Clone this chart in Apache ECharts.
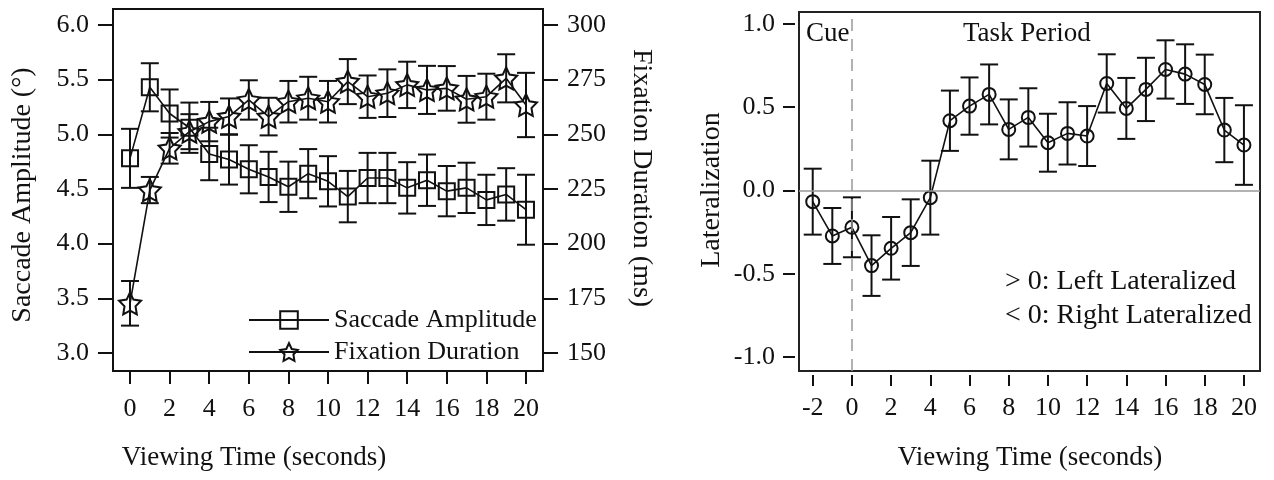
<!DOCTYPE html>
<html>
<head>
<meta charset="utf-8">
<script src="https://cdn.jsdelivr.net/npm/echarts@6/dist/echarts.min.js"></script>
<style>
html,body{margin:0;padding:0;background:#fff;}
#c{width:1274px;height:480px;}
</style>
</head>
<body>
<div id="c"></div>
<script>
// ---- data ----
const timesLeft = [0,1,2,3,4,5,6,7,8,9,10,11,12,13,14,15,16,17,18,19,20];
const saccadeAmp = [4.78,5.43,5.19,5.06,4.82,4.77,4.68,4.61,4.52,4.64,4.57,4.43,4.60,4.60,4.51,4.58,4.48,4.51,4.40,4.45,4.31];
const saccadeErr = [0.27,0.22,0.22,0.23,0.24,0.23,0.22,0.23,0.23,0.225,0.23,0.235,0.23,0.23,0.235,0.235,0.23,0.23,0.23,0.24,0.32];
const fixDur = [172.7,224.5,243.6,251.2,255.8,258.1,265.7,258.1,264.9,266.5,264.9,274.1,267.2,268.8,272.6,270.3,271.0,266.0,267.2,275.6,263.4];
const fixErr = [10.2,6,7,8,9,8.3,9,8.6,9.5,9.8,9.5,10.3,9.7,10.9,10.6,11,10.2,10.7,10.5,11,14.7];

const timesRight = [-2,-1,0,1,2,3,4,5,6,7,8,9,10,11,12,13,14,15,16,17,18,19,20];
const lateral = [-0.067,-0.273,-0.221,-0.451,-0.347,-0.253,-0.043,0.419,0.507,0.577,0.367,0.439,0.287,0.343,0.327,0.643,0.493,0.607,0.727,0.699,0.637,0.363,0.273];
const lateralErr = [0.198,0.168,0.18,0.182,0.188,0.2,0.222,0.181,0.172,0.18,0.18,0.175,0.174,0.187,0.18,0.175,0.183,0.19,0.175,0.179,0.179,0.193,0.239];

const xTicksLeft = [0,2,4,6,8,10,12,14,16,18,20];
const yTicksAmp = [3.0,3.5,4.0,4.5,5.0,5.5,6.0];
const yTicksFix = [150,175,200,225,250,275,300];
const xTicksRight = [-2,0,2,4,6,8,10,12,14,16,18,20];
const yTicksLat = [-1.0,-0.5,0.0,0.5,1.0];

// ---- helpers ----
const FONT = '"Liberation Serif","Times New Roman",Times,serif';
const STAR = 'path://M0,-10 L2.94,-4.05 L9.51,-3.09 L4.76,1.55 L5.88,8.09 L0,5 L-5.88,8.09 L-4.76,1.55 L-9.51,-3.09 L-2.94,-4.05 Z';

function errRender(capHalf, lw) {
  return function (params, api) {
    const x = api.value(0), y = api.value(1), e = api.value(2);
    const t = api.coord([x, y + e]);
    const b = api.coord([x, y - e]);
    const st = { stroke: '#111', lineWidth: lw, fill: null };
    return {
      type: 'group',
      children: [
        { type: 'line', shape: { x1: t[0], y1: t[1], x2: b[0], y2: b[1] }, style: st },
        { type: 'line', shape: { x1: t[0] - capHalf, y1: t[1], x2: t[0] + capHalf, y2: t[1] }, style: st },
        { type: 'line', shape: { x1: b[0] - capHalf, y1: b[1], x2: b[0] + capHalf, y2: b[1] }, style: st }
      ]
    };
  };
}
const zip3 = (xs, ys, es) => xs.map((x, i) => [x, ys[i], es[i]]);
const zip2 = (xs, ys) => xs.map((x, i) => [x, ys[i]]);

const labelStyle = { fontFamily: FONT, fontSize: 26, color: '#111' };
const tickStyle = { color: '#111', width: 2 };
const noLine = { show: false, onZero: false };

const chart = echarts.init(document.getElementById('c'), null, { renderer: 'canvas' });

const option = {
  backgroundColor: '#fff',
  animation: false,
  grid: [
    { left: 113, top: 9, width: 430, height: 362, show: true, borderColor: '#111', borderWidth: 2, backgroundColor: 'transparent', containLabel: false },
    { left: 799, top: 12, width: 461, height: 359, show: true, borderColor: '#222', borderWidth: 2, backgroundColor: 'transparent', containLabel: false }
  ],
  xAxis: [
    {
      gridIndex: 0, type: 'value', min: -0.86, max: 20.86, position: 'bottom',
      axisLine: noLine, splitLine: { show: false },
      axisTick: { show: true, inside: false, length: 13, lineStyle: tickStyle, customValues: xTicksLeft },
      axisLabel: Object.assign({ margin: 25, customValues: xTicksLeft, formatter: v => String(v) }, labelStyle)
    },
    {
      gridIndex: 1, type: 'value', min: -2.7, max: 20.82, offset: 4, position: 'bottom',
      axisLine: noLine, splitLine: { show: false },
      axisTick: { show: true, inside: false, length: 11, lineStyle: tickStyle, customValues: xTicksRight },
      axisLabel: Object.assign({ margin: 20, customValues: xTicksRight, formatter: v => String(v) }, labelStyle)
    }
  ],
  yAxis: [
    {
      gridIndex: 0, type: 'value', position: 'left', min: 2.835, max: 6.146,
      axisLine: noLine, splitLine: { show: false },
      axisTick: { show: true, inside: false, length: 15, lineStyle: tickStyle, customValues: yTicksAmp },
      axisLabel: Object.assign({ margin: 24, customValues: yTicksAmp, formatter: v => v.toFixed(1) }, labelStyle)
    },
    {
      gridIndex: 0, type: 'value', position: 'right', min: 141.75, max: 307.3,
      axisLine: noLine, splitLine: { show: false },
      axisTick: { show: true, inside: false, length: 15, lineStyle: tickStyle, customValues: yTicksFix },
      axisLabel: Object.assign({ margin: 24, customValues: yTicksFix, formatter: v => String(v) }, labelStyle)
    },
    {
      gridIndex: 1, type: 'value', position: 'left', min: -1.084, max: 1.072, offset: 4,
      axisLine: noLine, splitLine: { show: false },
      axisTick: { show: true, inside: false, length: 12, lineStyle: tickStyle, customValues: yTicksLat },
      axisLabel: Object.assign({ margin: 20, customValues: yTicksLat, formatter: v => v.toFixed(1) }, labelStyle)
    }
  ],
  legend: {
    show: true, orient: 'vertical', left: 243, top: 302,
    itemWidth: 80, itemHeight: 22, itemGap: 6,
    textStyle: { fontFamily: FONT, fontSize: 26, color: '#111', lineHeight: 24 },
    data: ['Saccade Amplitude', 'Fixation Duration']
  },
  series: [
    {
      type: 'custom', xAxisIndex: 0, yAxisIndex: 0, silent: true, z: 2,
      renderItem: errRender(9, 2), data: zip3(timesLeft, saccadeAmp, saccadeErr),
      encode: { x: 0, y: 1 }
    },
    {
      type: 'custom', xAxisIndex: 0, yAxisIndex: 1, silent: true, z: 2,
      renderItem: errRender(9, 2), data: zip3(timesLeft, fixDur, fixErr),
      encode: { x: 0, y: 1 }
    },
    {
      name: 'Saccade Amplitude', type: 'line', xAxisIndex: 0, yAxisIndex: 0, z: 3,
      data: zip2(timesLeft, saccadeAmp),
      symbol: 'rect', symbolSize: 16, showAllSymbol: true,
      lineStyle: { color: '#111', width: 1.6 },
      itemStyle: { color: 'rgba(0,0,0,0)', borderColor: '#111', borderWidth: 2 }
    },
    {
      name: 'Fixation Duration', type: 'line', xAxisIndex: 0, yAxisIndex: 1, z: 3,
      data: zip2(timesLeft, fixDur),
      symbol: STAR, symbolSize: 22, showAllSymbol: true,
      lineStyle: { color: '#111', width: 1.6 },
      itemStyle: { color: 'rgba(0,0,0,0)', borderColor: '#111', borderWidth: 2 }
    },
    {
      type: 'custom', xAxisIndex: 1, yAxisIndex: 2, silent: true, z: 2,
      renderItem: errRender(9, 2), data: zip3(timesRight, lateral, lateralErr),
      encode: { x: 0, y: 1 }
    },
    {
      name: 'Lateralization', type: 'line', xAxisIndex: 1, yAxisIndex: 2, z: 3,
      data: zip2(timesRight, lateral),
      symbol: 'circle', symbolSize: 13, showAllSymbol: true,
      lineStyle: { color: '#111', width: 1.6 },
      itemStyle: { color: 'rgba(0,0,0,0)', borderColor: '#111', borderWidth: 2 },
      markLine: {
        silent: true, symbol: 'none', label: { show: false }, animation: false,
        data: [
          { yAxis: 0, lineStyle: { color: '#999', width: 1.5, type: 'solid' } },
          { xAxis: 0, lineStyle: { color: '#999', width: 1.5, type: [12, 8] } }
        ]
      }
    }
  ],
  graphic: [
    { type: 'text', x: 23, y: 195, rotation: Math.PI / 2, style: { text: 'Saccade Amplitude (°)', font: '28px ' + FONT, fill: '#111', align: 'center', verticalAlign: 'middle' } },
    { type: 'text', x: 641, y: 178, rotation: -Math.PI / 2, style: { text: 'Fixation Duration (ms)', font: '28px ' + FONT, fill: '#111', align: 'center', verticalAlign: 'middle' } },
    { type: 'text', x: 712, y: 190, rotation: Math.PI / 2, style: { text: 'Lateralization', font: '28px ' + FONT, fill: '#111', align: 'center', verticalAlign: 'middle' } },
    { type: 'text', x: 254, y: 458, style: { text: 'Viewing Time (seconds)', font: '27px ' + FONT, fill: '#111', align: 'center', verticalAlign: 'middle' } },
    { type: 'text', x: 1030, y: 458, style: { text: 'Viewing Time (seconds)', font: '27px ' + FONT, fill: '#111', align: 'center', verticalAlign: 'middle' } },
    { type: 'text', x: 806, y: 34, style: { text: 'Cue', font: '27px ' + FONT, fill: '#111', align: 'left', verticalAlign: 'middle' } },
    { type: 'text', x: 963, y: 34, style: { text: 'Task Period', font: '27px ' + FONT, fill: '#111', align: 'left', verticalAlign: 'middle' } },
    { type: 'text', x: 1005, y: 282, style: { text: '> 0: Left Lateralized', font: '28px ' + FONT, fill: '#111', align: 'left', verticalAlign: 'middle' } },
    { type: 'text', x: 1005, y: 316, style: { text: '< 0: Right Lateralized', font: '28px ' + FONT, fill: '#111', align: 'left', verticalAlign: 'middle' } }
  ]
};
chart.setOption(option);
</script>
</body>
</html>
